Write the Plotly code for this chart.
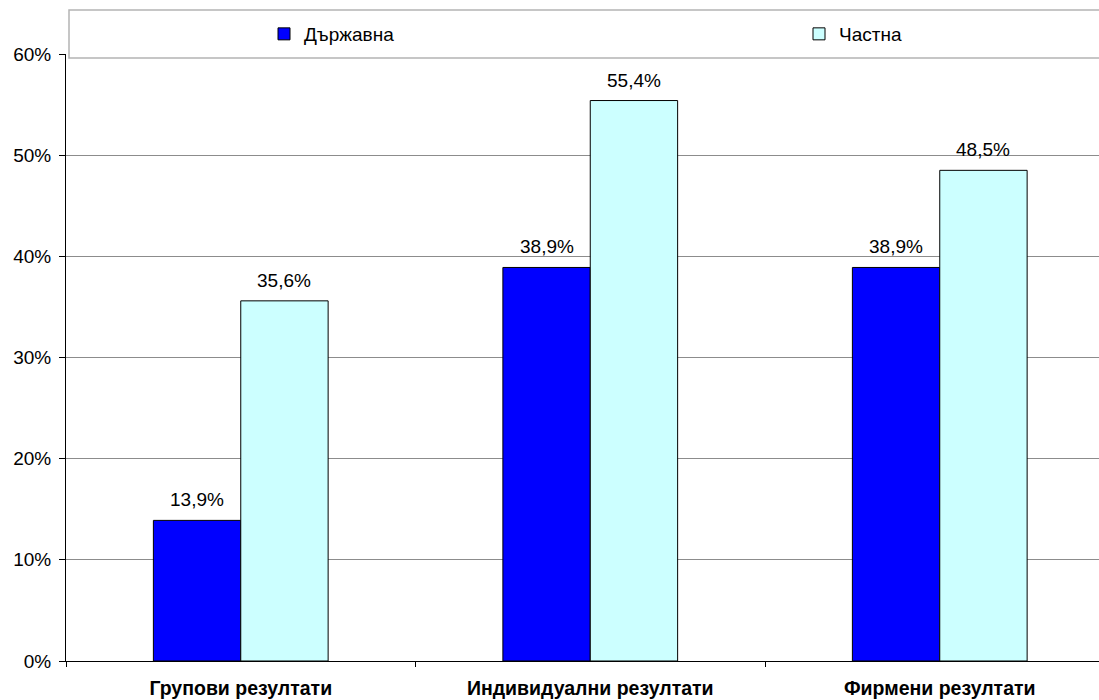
import plotly.graph_objects as go

categories = ["Групови резултати", "Индивидуални резултати", "Фирмени резултати"]
state_values = [0.139, 0.389, 0.389]
private_values = [0.356, 0.554, 0.485]
series_names = ["Държавна", "Частна"]
y_ticks = [0, 0.1, 0.2, 0.3, 0.4, 0.5, 0.6]

FONT = "Liberation Sans, Arial, sans-serif"
PLOT_W, PLOT_H = 1033, 607
CAT_W = 349.5          # pixel width of one category slot
BAR_W = CAT_W / 4      # two bars fill half of a slot

fig = go.Figure()
series = [
    (series_names[0], state_values, "#0000FF", "legend", -1),
    (series_names[1], private_values, "#CCFFFF", "legend2", 1),
]
for name, vals, color, leg, side in series:
    fig.add_trace(go.Bar(
        x=categories, y=vals, name=name, legend=leg,
        marker=dict(color=color, line=dict(color="#000000", width=1)),
        hoverinfo="x+y+name",
    ))
    # value labels above each bar
    for cat, v in zip(categories, vals):
        fig.add_annotation(
            x=cat, y=v, xref="x", yref="y",
            text=f"{v * 100:.1f}%".replace(".", ","),
            showarrow=False, yanchor="bottom", xanchor="center",
            xshift=side * BAR_W / 2, yshift=8,
            font=dict(family=FONT, size=19, color="#000000"),
        )

# legend frame spanning the top of the chart
fig.add_shape(type="rect", xref="paper", yref="paper",
              x0=3 / PLOT_W, x1=1.01, y0=1 - 4 / PLOT_H, y1=1 + 44 / PLOT_H,
              line=dict(color="#b4b4b4", width=1.5), fillcolor="#ffffff",
              layer="above")

legend_common = dict(
    orientation="h", yanchor="middle", y=1 + 20 / PLOT_H, xanchor="left",
    bgcolor="rgba(0,0,0,0)", borderwidth=0,
    font=dict(family=FONT, size=19, color="#000000"),
)

fig.update_layout(
    width=1099, height=700,
    margin=dict(l=66, r=0, t=54, b=39),
    paper_bgcolor="#ffffff", plot_bgcolor="#ffffff",
    barmode="group", bargap=0.5, bargroupgap=0,
    font=dict(family=FONT, size=19, color="#000000"),
    showlegend=True,
    legend=dict(x=(264 - 66) / PLOT_W, **legend_common),
    legend2=dict(x=(799 - 66) / PLOT_W, **legend_common),
    xaxis=dict(
        range=[-0.5, -0.5 + PLOT_W / CAT_W],
        showline=True, linecolor="#000000", linewidth=1,
        ticks="outside", tickson="boundaries", ticklen=5, tickcolor="#000000",
        showgrid=False, zeroline=False,
        tickfont=dict(family=FONT, size=19.5, color="#000000", weight="bold"),
        ticklabelstandoff=10,
    ),
    yaxis=dict(
        range=[0, 0.6], tickvals=y_ticks, tickformat=".0%",
        showline=True, linecolor="#000000", linewidth=1,
        ticks="outside", ticklen=6, tickcolor="#000000",
        showgrid=True, gridcolor="#8c8c8c", gridwidth=1, zeroline=False,
        tickfont=dict(family=FONT, size=19, color="#000000"),
        ticklabelstandoff=4,
    ),
)

fig.write_html("out.html")
